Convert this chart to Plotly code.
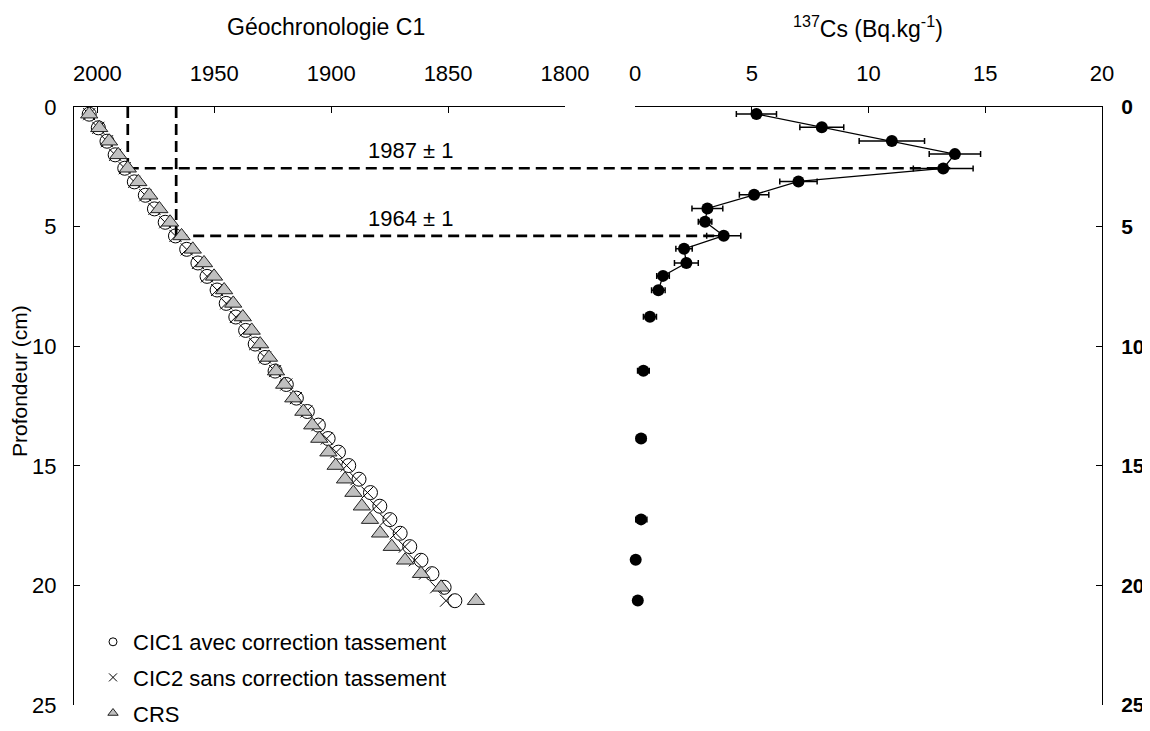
import plotly.graph_objects as go

# ---------------- data ----------------
depth = [0.30, 0.87, 1.43, 2.00, 2.56, 3.13, 3.69, 4.26, 4.82, 5.39, 5.95, 6.52, 7.08,
         7.65, 8.21, 8.78, 9.34, 9.91, 10.47, 11.04, 11.60, 12.17, 12.73, 13.30, 13.86,
         14.43, 14.99, 15.56, 16.12, 16.69, 17.25, 17.82, 18.38, 18.95, 19.51, 20.08, 20.64]

year_cic1 = [2003.5, 1999.6, 1995.9, 1992.4, 1988.3, 1984.2, 1979.5, 1975.6, 1971.0, 1966.6,
             1961.8, 1957.0, 1953.1, 1948.8, 1944.9, 1940.8, 1936.6, 1932.5, 1928.3, 1924.0,
             1919.2, 1914.9, 1910.2, 1905.5, 1901.3, 1896.9, 1892.5, 1888.1, 1883.2, 1879.2,
             1874.9, 1870.5, 1866.4, 1861.6, 1856.9, 1851.7, 1847.1]

year_cic2 = [2003.5, 1999.6, 1995.9, 1992.4, 1988.3, 1984.2, 1979.5, 1975.6, 1971.0, 1966.6,
             1961.8, 1957.0, 1953.1, 1948.8, 1944.9, 1940.8, 1936.6, 1932.5, 1928.3, 1924.0,
             1919.2, 1915.1, 1910.6, 1905.9, 1901.9, 1897.8, 1893.4, 1889.2, 1884.5, 1880.7,
             1876.6, 1872.4, 1868.5, 1864.2, 1859.9, 1855.1, 1850.9]

year_crs = [2003.5, 1999.2, 1995.0, 1991.1, 1987.0, 1982.5, 1977.8, 1973.5, 1968.9, 1964.0,
            1959.2, 1954.4, 1950.1, 1945.8, 1941.9, 1937.8, 1934.0, 1930.4, 1926.6, 1923.6,
            1920.1, 1916.2, 1911.9, 1908.1, 1905.1, 1901.2, 1898.1, 1894.1, 1890.5, 1886.9,
            1883.4, 1879.1, 1874.1, 1868.4, 1861.6, 1853.0, 1838.1]

cs_depth = [0.29, 0.85, 1.42, 1.97, 2.57, 3.11, 3.67, 4.24, 4.80, 5.38, 5.93, 6.52, 7.06,
            7.66, 8.77, 11.03, 13.86, 17.24, 18.93, 20.63]
cs_value = [5.2, 8.0, 11.0, 13.7, 13.2, 7.0, 5.1, 3.1, 3.0, 3.8, 2.1, 2.2, 1.2, 1.0,
            0.64, 0.36, 0.26, 0.26, 0.03, 0.12]
cs_err = [0.86, 0.94, 1.40, 1.10, 1.28, 0.80, 0.63, 0.66, 0.29, 0.73, 0.35, 0.51, 0.27,
          0.29, 0.28, 0.25, 0.20, 0.25, 0.10, 0.10]
n_connected = 14  # first profile points joined by a line

year_ticks = [2000, 1950, 1900, 1850, 1800]
cs_ticks = [0, 5, 10, 15, 20]
depth_ticks = [0, 5, 10, 15, 20, 25]

marker_1987 = {"year": 1987.0, "depth": 2.56, "cs": 13.5, "label": "1987 ± 1"}
marker_1964 = {"year": 1966.3, "depth": 5.39, "cs": 3.78, "label": "1964 ± 1"}

# ---------------- layout geometry ----------------
OFF = 8                      # page body margin of the html page
W, H = 1150 - OFF, 731 - OFF
M_T = 107 - OFF              # plot top (screen y 107)
M_B = H - (705 - OFF)        # plot bottom (screen y 705)
PH = H - M_T - M_B


def sx(px):                  # screen x -> paper x
    return (px - OFF) / W


def sy(py):                  # screen y -> paper y
    return ((705 - OFF) - (py - OFF)) / PH


dom_l = [sx(74), sx(565)]
dom_r = [sx(635), sx(1102)]
year_range = [2010, 1800]
cs_range = [0, 20]
depth_range = [25, 0]

FONT = "Liberation Sans, Arial, sans-serif"


def px_year(y):
    return dom_l[0] + (year_range[0] - y) / (year_range[0] - year_range[1]) * (dom_l[1] - dom_l[0])


def px_cs(v):
    return dom_r[0] + (v - cs_range[0]) / (cs_range[1] - cs_range[0]) * (dom_r[1] - dom_r[0])


def py_depth(d):
    return 1 - d / 25.0


fig = go.Figure()

# Left panel: age models
fig.add_trace(go.Scatter(
    x=year_cic1, y=depth, mode="markers", xaxis="x", yaxis="y", showlegend=False,
    marker=dict(symbol="circle-open", size=14, color="black", line=dict(width=1, color="black"))))
fig.add_trace(go.Scatter(
    x=year_cic2, y=depth, mode="markers", xaxis="x", yaxis="y", showlegend=False,
    marker=dict(symbol="x-thin", size=12, color="black", line=dict(width=1, color="black"))))
fig.add_trace(go.Scatter(
    x=year_crs, y=depth, mode="markers", xaxis="x", yaxis="y", showlegend=False,
    marker=dict(symbol="triangle-up", size=15, color="#c0c0c0", line=dict(width=1, color="#222"))))

# Legend entries (small symbols as in the original)
fig.add_trace(go.Scatter(x=[None], y=[None], mode="markers", name="CIC1 avec correction tassement",
                         legendgroup="a", xaxis="x", yaxis="y",
                         marker=dict(symbol="circle-open", size=8, color="black", line=dict(width=1))))
fig.add_trace(go.Scatter(x=[None], y=[None], mode="markers", name="CIC2 sans correction tassement",
                         legendgroup="b", xaxis="x", yaxis="y",
                         marker=dict(symbol="x-thin", size=8, color="black", line=dict(width=1, color="black"))))
fig.add_trace(go.Scatter(x=[None], y=[None], mode="markers", name="CRS",
                         legendgroup="c", xaxis="x", yaxis="y",
                         marker=dict(symbol="triangle-up", size=9, color="#c0c0c0", line=dict(width=1, color="#222"))))

# Right panel: 137Cs profile
fig.add_trace(go.Scatter(
    x=cs_value[:n_connected], y=cs_depth[:n_connected], mode="lines", xaxis="x2", yaxis="y2",
    showlegend=False, line=dict(color="black", width=1.3)))
fig.add_trace(go.Scatter(
    x=cs_value, y=cs_depth, mode="markers", xaxis="x2", yaxis="y2", showlegend=False,
    cliponaxis=False,
    marker=dict(symbol="circle", size=12, color="black"),
    error_x=dict(type="data", array=cs_err, visible=True, color="black", thickness=1.5, width=3)))

# Dashed guide lines
shapes = []
dash = dict(color="black", width=2.7, dash="11px,6px")
for m in (marker_1987, marker_1964):
    shapes.append(dict(type="line", xref="paper", yref="paper", layer="below",
                       x0=px_year(m["year"]), x1=px_year(m["year"]),
                       y0=py_depth(0), y1=py_depth(m["depth"]), line=dash))
    shapes.append(dict(type="line", xref="paper", yref="paper", layer="below",
                       x0=px_year(m["year"]), x1=px_cs(m["cs"]),
                       y0=py_depth(m["depth"]), y1=py_depth(m["depth"]), line=dash))

annotations = [
    dict(text="Géochronologie C1", x=sx(326), y=sy(27), xref="paper", yref="paper",
         xanchor="center", yanchor="middle", showarrow=False,
         font=dict(family=FONT, size=23, color="black")),
    dict(text="<sup>137</sup>Cs (Bq.kg<sup>-1</sup>)", x=sx(868), y=sy(27), xref="paper", yref="paper",
         xanchor="center", yanchor="middle", showarrow=False,
         font=dict(family=FONT, size=23, color="black")),
    dict(text="Profondeur (cm)", textangle=-90, x=sx(19), y=sy(381), xref="paper", yref="paper",
         xanchor="center", yanchor="middle", showarrow=False,
         font=dict(family=FONT, size=21, color="black")),
    dict(text=marker_1987["label"], x=1866, y=1.8, xref="x", yref="y", showarrow=False,
         xanchor="center", yanchor="middle", font=dict(family=FONT, size=22, color="black")),
    dict(text=marker_1964["label"], x=1866, y=4.65, xref="x", yref="y", showarrow=False,
         xanchor="center", yanchor="middle", font=dict(family=FONT, size=22, color="black")),
]

axis_common = dict(showgrid=False, zeroline=False, showline=True, linecolor="black", linewidth=1,
                   ticks="inside", ticklen=6, tickcolor="black", tickwidth=1, automargin=False)
tick_font = dict(family=FONT, size=22, color="black")

fig.update_layout(
    width=W, height=H,
    margin=dict(l=0, r=0, t=M_T, b=M_B, autoexpand=False),
    template="none",
    paper_bgcolor="white", plot_bgcolor="rgba(0,0,0,0)",
    font=dict(family=FONT, color="black"),
    xaxis=dict(domain=dom_l, range=year_range, side="top", anchor="y", tickvals=year_ticks,
               ticklabelstandoff=16, tickfont=tick_font, **axis_common),
    yaxis=dict(domain=[0, 1], range=depth_range, anchor="x", side="left", tickvals=depth_ticks,
               ticklabelstandoff=12, tickfont=tick_font, **axis_common),
    xaxis2=dict(domain=dom_r, range=cs_range, side="top", anchor="y2", tickvals=cs_ticks,
                ticklabelstandoff=16, tickfont=tick_font, **axis_common),
    yaxis2=dict(domain=[0, 1], range=depth_range, anchor="x2", side="right", tickvals=depth_ticks,
                ticklabelstandoff=14, tickfont=dict(family=FONT, size=21, color="black", weight="bold"),
                **axis_common),
    shapes=shapes,
    annotations=annotations,
    showlegend=True,
    legend=dict(x=sx(93), y=sy(621), xanchor="left", yanchor="top",
                bgcolor="rgba(0,0,0,0)", borderwidth=0, tracegroupgap=4,
                font=dict(family=FONT, size=22, color="black")),
)

fig.write_html("out.html")
